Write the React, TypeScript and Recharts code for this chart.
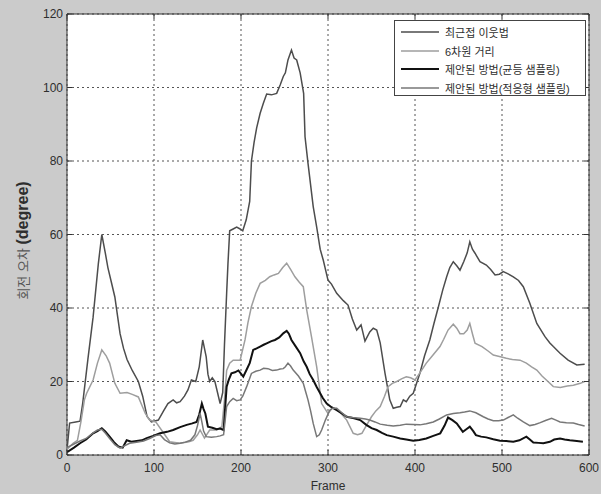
import { CartesianGrid, Legend, Line, LineChart, ReferenceArea, XAxis, YAxis } from "recharts";

// [frame, rotation error in degree]
const nearestNeighbor: [number, number][] = [
  [0, 1.4], [3, 8.7], [10, 9], [15, 9.2], [18, 14], [24, 26], [30, 37.5], [36, 52], [40, 60], [44, 55],
  [47, 51], [51, 47], [55, 43], [58, 38], [61, 33], [65, 29], [69, 26], [75, 23], [82, 20], [87, 16],
  [92, 10.5], [97, 9], [105, 9.5], [111, 12], [116, 14], [122, 15], [126, 14.2], [130, 14.5], [135, 16],
  [139, 17.7], [143, 20.4], [148, 20], [152, 24], [156, 31.3], [158, 29], [160, 26.7], [162, 22], [164, 20],
  [167, 21], [170, 20], [173, 17], [176, 14], [179, 17], [181, 30], [183.5, 44], [185, 52], [187, 61],
  [191, 61.5], [195, 62], [199, 61.5], [202, 61], [206, 64], [210, 69], [212, 80], [215, 85], [218, 89],
  [222, 93], [225.7, 95.7], [229.5, 98.2], [235, 98], [241, 98.4], [245, 100.7], [248.6, 103], [251, 104],
  [254, 107.5], [258, 110.2], [261, 108], [264, 107.5], [268, 104], [272, 98.4], [273.6, 86.6], [277, 79.4],
  [283, 67.6], [287, 62], [291, 56], [294.6, 53], [300, 47.6], [304, 46.5], [310, 44], [317.6, 42],
  [323, 40.8], [328, 37], [333, 34], [338, 35.4], [342.5, 31], [348, 33.5], [352, 34.5], [356, 34],
  [360, 30.5], [365.5, 22.3], [371, 15], [375, 12.7], [379, 13], [383, 13.2], [386.6, 15], [390, 14.5],
  [394, 16], [398, 16.8], [405.7, 22.3], [411, 27], [417, 31.3], [422, 36], [427, 40.4], [432, 45],
  [436.4, 48.5], [440, 51], [444, 52.6], [448, 51.5], [451.7, 50.3], [456, 52.6], [460, 55], [463, 58],
  [466, 56], [469, 54.9], [474.7, 52.6], [482, 51.7], [487, 50.5], [492, 49], [497, 49.2], [501.5, 49.9],
  [507, 49.3], [513, 48.5], [519, 47.5], [524.5, 45.8], [532, 41.3], [540, 35.8], [549.4, 32.2], [555, 30.5],
  [559, 29.5], [566.7, 27.7], [576, 25.8], [586, 24.5], [595, 24.7],
];

const sixDimDistance: [number, number][] = [
  [0, 1.5], [7, 3.2], [12, 4], [16, 9], [20, 15], [22.6, 16.8], [30, 20.4], [35, 25], [40, 28.6], [45, 27],
  [49, 25], [55, 19.5], [61, 16.8], [69, 17], [75, 16.5], [82, 15.8], [90, 11.3], [95, 9.5], [102, 9],
  [111, 6], [118, 3.6], [130, 3.2], [140, 3.6], [145, 4], [150, 5.5], [153, 6.8], [158, 4.6], [164, 6.8],
  [172, 6.8], [178, 7.7], [181, 15], [183.5, 23], [187, 25], [191, 25.8], [199, 25.8], [204.6, 31.3],
  [208, 36], [212, 40.4], [217, 44], [222, 46.7], [228, 47.5], [233, 48.5], [238, 49], [243, 49.4],
  [248, 51], [252.5, 52.2], [257, 50.5], [262, 48.5], [267, 47], [271.6, 45.8], [275.5, 39.5], [281, 32.2],
  [287, 24], [292.7, 14], [300, 11.3], [305, 12.8], [310, 12.5], [316, 11], [321.5, 9.5], [329, 5.9],
  [334, 5.5], [339, 5.9], [344, 8], [350, 10.4], [355, 12], [360, 13.2], [365, 16], [369, 18.6],
  [374, 19.5], [379, 20], [385, 20.8], [390, 21.3], [395, 21], [400, 20.4], [406, 22.5], [413, 25],
  [420, 27], [428.7, 29.5], [433, 31.5], [438, 34], [444, 35.6], [448, 34.5], [451.7, 33], [456, 33],
  [460, 34], [463, 35.8], [466, 33], [469, 30.4], [477, 29.5], [484, 28.3], [490, 27.2], [497, 26.8],
  [505, 26.3], [512, 26], [520.7, 25.8], [528, 25], [534, 24], [540, 23.1], [546, 21.5], [551, 20.4],
  [559, 18.6], [567, 18.4], [575, 18.8], [582, 19], [590, 19.5], [595, 20],
];

const uniformSampling: [number, number][] = [
  [0, 0.8], [8, 2], [15, 3.2], [22, 4.2], [30, 5.9], [35, 6.5], [40, 7.3], [44, 6.4], [49, 5], [54, 3.5],
  [59, 2.3], [64, 2], [68.6, 4], [74, 3.6], [80, 3.8], [86, 4], [91.6, 4.6], [99, 5.2], [107, 5.9],
  [115, 6.3], [122, 6.8], [130, 7.6], [137.6, 8.2], [144, 8.6], [149, 9], [152, 11], [155, 14], [157, 12.5],
  [159, 11.3], [162, 7.7], [167, 7.4], [172, 7], [176, 7.2], [180, 6.8], [183.5, 18.6], [186, 20.5],
  [189, 22.2], [193, 22.5], [197, 23], [202.6, 21.3], [206, 23], [210, 25], [214, 28.6], [218, 29],
  [222, 29.5], [226, 30], [229.5, 30.4], [235, 31], [239, 31.3], [244, 32], [248.6, 33.1], [252.5, 33.8],
  [255, 33], [258, 31.3], [263, 29.5], [268, 27.7], [272, 25.5], [275.5, 24], [279, 22], [283, 20.4],
  [287, 18.5], [291, 16.8], [294, 15.5], [298.5, 14], [304, 13], [310, 12.2], [316, 11.3], [321.5, 10.4],
  [330, 10], [337, 9.5], [344, 8.2], [350, 7.3], [356, 6.8], [362, 6], [367.5, 5.4], [375, 5], [383, 4.5],
  [390, 4.2], [398, 3.9], [405, 4.1], [413, 4.5], [421, 5.2], [429, 5.9], [434, 8], [438, 10.2], [443, 9.5],
  [448, 8.6], [455, 6.3], [459, 7], [463, 7.7], [467, 6.5], [470, 5.4], [476, 5], [482, 4.8], [490, 4.3],
  [497.7, 3.9], [505, 3.8], [513, 3.6], [520, 4], [528, 5], [532, 4.2], [536, 3.4], [542, 3.3],
  [547.5, 3.2], [555, 3.6], [560, 4.2], [566.7, 4.5], [572, 4.2], [578, 4], [586, 3.8], [593, 3.6],
];

const adaptiveSampling: [number, number][] = [
  [0, 2], [8, 3], [15, 3.8], [22, 4.5], [30, 6], [35, 6.8], [40, 7], [44, 6], [49, 4.5], [55, 2.8],
  [61, 1.9], [66, 2.5], [72, 3.2], [80, 3.5], [88, 3.8], [95, 4.5], [102, 5.3], [107, 5.5], [112, 4.2],
  [118, 3.3], [124, 3], [130, 3.2], [136, 3.5], [142, 4], [147, 5.5], [150, 8], [153, 11.3], [155, 9],
  [157, 6.5], [160, 5], [166, 4.8], [172, 5], [176, 5.2], [180, 5.5], [183.5, 13.2], [187, 14.5],
  [191, 15.4], [195, 14.8], [199, 15], [202, 16], [206.5, 18.6], [212, 22.2], [217, 22.8], [222, 23.1],
  [226, 23.6], [231, 23.5], [236, 23], [241, 23.1], [245, 23.4], [248.6, 23.5], [251, 24], [254, 25],
  [257, 24.2], [260, 23.1], [266, 21.5], [271.6, 19.5], [274, 17.5], [277, 15], [280, 12], [283, 8.6],
  [287, 5], [290, 5.5], [292.7, 6.8], [297, 9.5], [302, 12.2], [306, 12.8], [310, 12.7], [316, 11.5],
  [321.5, 10.4], [328, 10.2], [337, 10], [343, 9.8], [348, 9.5], [354, 9], [360, 8.4], [368, 8.1],
  [375, 7.9], [383, 8.1], [390, 8.4], [398, 8.3], [405.7, 8.2], [413, 8.5], [421, 9], [428, 9.8],
  [436.4, 10.9], [444, 11.3], [451.7, 11.5], [457, 11.7], [463, 12], [470, 11.5], [478.5, 10.4], [484, 9.8],
  [490, 9.3], [496, 9.3], [501.5, 9.5], [507, 10.2], [513, 10.9], [518, 10], [524.5, 9], [532, 8],
  [538, 8.3], [544, 8.8], [550, 9.4], [557, 10], [562, 9.5], [566.7, 9], [574, 8.8], [582, 8.7],
  [588, 8.3], [595, 7.9],
];

const xTicks = [0, 100, 200, 300, 400, 500, 600];
const yTicks = [0, 20, 40, 60, 80, 100, 120];

const seriesNames = ["최근접 이웃법", "6차원 거리", "제안된 방법(균등 샘플링)", "제안된 방법(적응형 샘플링)"];
const seriesColors = ["#4d4d4d", "#9e9e9e", "#111111", "#777777"];
const seriesWidths = [1.5, 1.5, 2, 1.5];
const seriesData = [nearestNeighbor, sixDimDistance, uniformSampling, adaptiveSampling];

const W = 601;
const H = 494;
const LEFT = 67;
const TOP = 14;
const RIGHT = 589;
const BOTTOM = 455;
const FONT = "'Liberation Sans', Arial, 'Noto Sans CJK KR', sans-serif";
const TEXT = "#2e2e2e";

const toPoints = (rows: [number, number][]) => rows.map(([x, y]) => ({ x, y }));

const XTick = (props: any) => {
  const { x, payload } = props;
  return (
    <g>
      <line x1={x} x2={x} y1={BOTTOM} y2={BOTTOM - 5} stroke="#333" />
      <line x1={x} x2={x} y1={TOP} y2={TOP + 5} stroke="#333" />
      <text x={x} y={BOTTOM + 17} textAnchor="middle" fontSize={12} fill={TEXT} fontFamily={FONT}>
        {payload.value}
      </text>
    </g>
  );
};

const YTick = (props: any) => {
  const { y, payload } = props;
  return (
    <g>
      <line x1={LEFT} x2={LEFT + 5} y1={y} y2={y} stroke="#333" />
      <line x1={RIGHT} x2={RIGHT - 5} y1={y} y2={y} stroke="#333" />
      <text x={LEFT - 4} y={y + 4} textAnchor="end" fontSize={12} fill={TEXT} fontFamily={FONT}>
        {payload.value}
      </text>
    </g>
  );
};

const LegendBox = () => (
  <div
    style={{
      width: 192,
      height: 76,
      background: "#fff",
      border: "1px solid #444",
      boxSizing: "border-box",
      padding: "2px 0 0 6px",
      fontFamily: FONT,
      fontSize: 11,
      color: TEXT,
    }}
  >
    {seriesNames.map((name, i) => (
      <div key={name} style={{ display: "flex", alignItems: "center", height: 18.5 }}>
        <svg width={38} height={6} style={{ marginRight: 6 }}>
          <line x1={0} x2={38} y1={3} y2={3} stroke={seriesColors[i]} strokeWidth={seriesWidths[i]} />
        </svg>
        <span style={{ whiteSpace: "nowrap" }}>{name}</span>
      </div>
    ))}
  </div>
);

export default function App() {
  return (
    <div style={{ position: "absolute", left: 0, top: 0, width: W, height: H, background: "#cbcbcb" }}>
      <LineChart width={W} height={H} margin={{ top: TOP, right: W - RIGHT, left: 0, bottom: 0 }}>
        <CartesianGrid stroke="#555" strokeDasharray="2 3" fill="#fff" fillOpacity={1} />
        <XAxis
          type="number"
          dataKey="x"
          domain={[0, 600]}
          ticks={xTicks}
          allowDataOverflow
          height={H - BOTTOM}
          axisLine={false}
          tickLine={false}
          tick={<XTick />}
          label={{
            value: "Frame",
            position: "insideBottom",
            offset: 4,
            fontSize: 12,
            fill: TEXT,
            fontFamily: FONT,
          }}
        />
        <YAxis
          type="number"
          domain={[0, 120]}
          ticks={yTicks}
          width={LEFT}
          axisLine={false}
          tickLine={false}
          tick={<YTick />}
          label={{
            content: () => (
              <text
                x={0}
                y={0}
                transform={`translate(28, ${(TOP + BOTTOM) / 2 + 6}) rotate(-90)`}
                textAnchor="middle"
                fontFamily={FONT}
                fill={TEXT}
              >
                <tspan fontSize={13} fill="#555">회전 오차 </tspan>
                <tspan fontSize={16} fontWeight="bold">(degree)</tspan>
              </text>
            ),
          }}
        />
        <ReferenceArea x1={0} x2={600} y1={0} y2={120} fill="none" stroke="#333" strokeWidth={1} ifOverflow="visible" />
        {seriesData.map((rows, i) => (
          <Line
            key={seriesNames[i]}
            data={toPoints(rows)}
            dataKey="y"
            name={seriesNames[i]}
            type="linear"
            stroke={seriesColors[i]}
            strokeWidth={seriesWidths[i]}
            dot={false}
            isAnimationActive={false}
          />
        ))}
        <Legend
          layout="vertical"
          align="center"
          verticalAlign="middle"
          content={<LegendBox />}
          wrapperStyle={{ left: 394, top: 20, width: 192 }}
        />
      </LineChart>
    </div>
  );
}
